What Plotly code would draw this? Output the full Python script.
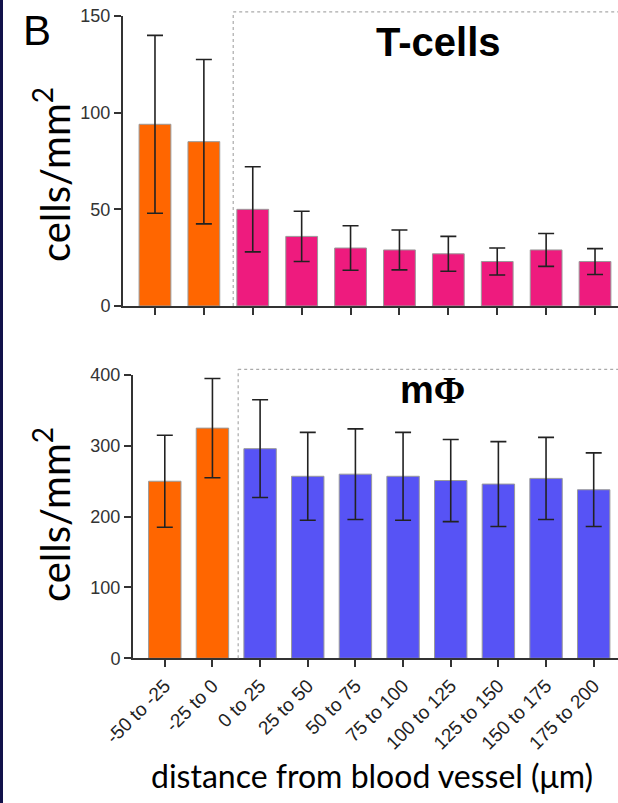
import plotly.graph_objects as go

categories = ["-50 to -25", "-25 to 0", "0 to 25", "25 to 50", "50 to 75",
              "75 to 100", "100 to 125", "125 to 150", "150 to 175", "175 to 200"]
tcell_mean = [94, 85, 50, 36, 30, 29, 27, 23, 29, 23]
tcell_err = [46, 42.5, 22, 13, 11.5, 10.3, 9, 7, 8.5, 6.7]
mphi_mean = [250, 325, 296, 257, 260, 257, 251, 246, 254, 238]
mphi_err = [65, 70, 69, 62, 64, 62, 58, 60, 58, 52]
tcell_colors = ["#FF6600"] * 2 + ["#EE1B7E"] * 8
mphi_colors = ["#FF6600"] * 2 + ["#5753F5"] * 8
tick_y_top = [0, 50, 100, 150]
tick_y_bot = [0, 100, 200, 300, 400]

W, H = 618, 803
idx = list(range(len(categories)))

fig = go.Figure()
fig.add_trace(go.Bar(
    x=idx, y=tcell_mean, width=0.65,
    marker=dict(color=tcell_colors, line=dict(color="#9a9a9a", width=1)),
    error_y=dict(type="data", array=tcell_err, color="#222222", thickness=1.6, width=8),
    xaxis="x", yaxis="y", showlegend=False))
fig.add_trace(go.Bar(
    x=idx, y=mphi_mean, width=0.68,
    marker=dict(color=mphi_colors, line=dict(color="#9a9a9a", width=1)),
    error_y=dict(type="data", array=mphi_err, color="#222222", thickness=1.6, width=8),
    xaxis="x2", yaxis="y2", showlegend=False))

axis_common = dict(showgrid=False, zeroline=False, showline=True, linecolor="#333333",
                   linewidth=2, ticks="outside", ticklen=7, tickwidth=2, tickcolor="#333333",
                   automargin=False)
tickfont = dict(family="Liberation Sans", size=18, color="#333333")

fig.update_layout(
    width=W, height=H, margin=dict(l=0, r=0, t=0, b=0, autoexpand=False),
    paper_bgcolor="white", plot_bgcolor="white",
    xaxis=dict(domain=[123 / W, 1], range=[-0.654, 9.47], tickvals=idx, showticklabels=False,
               anchor="y", **axis_common),
    yaxis=dict(domain=[1 - 306 / H, 1 - 16 / H], range=[0, 150], tickvals=tick_y_top,
               tickfont=tickfont, anchor="x", **axis_common),
    xaxis2=dict(domain=[133 / W, 1], range=[-0.667, 9.51], tickvals=idx, ticktext=categories,
                tickangle=-45, tickfont=dict(family="Liberation Sans", size=19, color="#222222"),
                anchor="y2", **axis_common),
    yaxis2=dict(domain=[1 - 658.3 / H, 1 - 375 / H], range=[0, 400], tickvals=tick_y_bot,
                tickfont=tickfont, anchor="x2", **axis_common),
)

dot = dict(color="#aaaaaa", width=1.2, dash="dot")
fig.add_shape(type="line", xref="x", yref="y domain", x0=1.6, x1=1.6, y0=0, y1=1.014, line=dot)
fig.add_shape(type="line", xref="x", yref="y domain", x0=1.6, x1=9.6, y0=1.014, y1=1.014, line=dot)
fig.add_shape(type="line", xref="x2", yref="y2 domain", x0=1.54, x1=1.54, y0=0, y1=1.02, line=dot)
fig.add_shape(type="line", xref="x2", yref="y2 domain", x0=1.54, x1=9.6, y0=1.02, y1=1.02, line=dot)
# left edge strip (image fragment)
fig.add_shape(type="rect", xref="paper", yref="paper", x0=0, x1=3 / W, y0=0, y1=1,
              line=dict(width=0), fillcolor="#12124a", layer="below")

ylab_font = dict(family="Lato", size=40, color="black")
fig.add_annotation(text="cells/mm<sup>2</sup>", xref="paper", yref="paper",
                   x=52 / W, y=1 - 175 / H, textangle=-90, showarrow=False, font=ylab_font,
                   xanchor="center", yanchor="middle")
fig.add_annotation(text="cells/mm<sup>2</sup>", xref="paper", yref="paper",
                   x=52 / W, y=1 - 515 / H, textangle=-90, showarrow=False, font=ylab_font,
                   xanchor="center", yanchor="middle")
fig.add_annotation(text="distance from blood vessel (\u03bcm)", xref="paper", yref="paper",
                   x=372 / W, y=1 - 775 / H, showarrow=False,
                   font=dict(family="Lato", size=32, color="black"),
                   xanchor="center", yanchor="middle")
fig.add_annotation(text="B", xref="paper", yref="paper", x=37 / W, y=1 - 30 / H, showarrow=False,
                   font=dict(family="Liberation Sans", size=42, color="black"),
                   xanchor="center", yanchor="middle")
fig.add_annotation(text="<b>T-cells</b>", xref="paper", yref="paper", x=438 / W, y=1 - 42 / H,
                   showarrow=False, font=dict(family="Liberation Sans", size=40, color="black"),
                   xanchor="center", yanchor="middle")
fig.add_annotation(text="<b>m<span style='font-family:Liberation Serif'>\u03a6</span></b>",
                   xref="paper", yref="paper", x=432 / W, y=1 - 390 / H,
                   showarrow=False, font=dict(family="Liberation Sans", size=38, color="black"),
                   xanchor="center", yanchor="middle")

fig.write_html("out.html", config={"displayModeBar": False},
               post_script="document.body.style.margin='0';")
